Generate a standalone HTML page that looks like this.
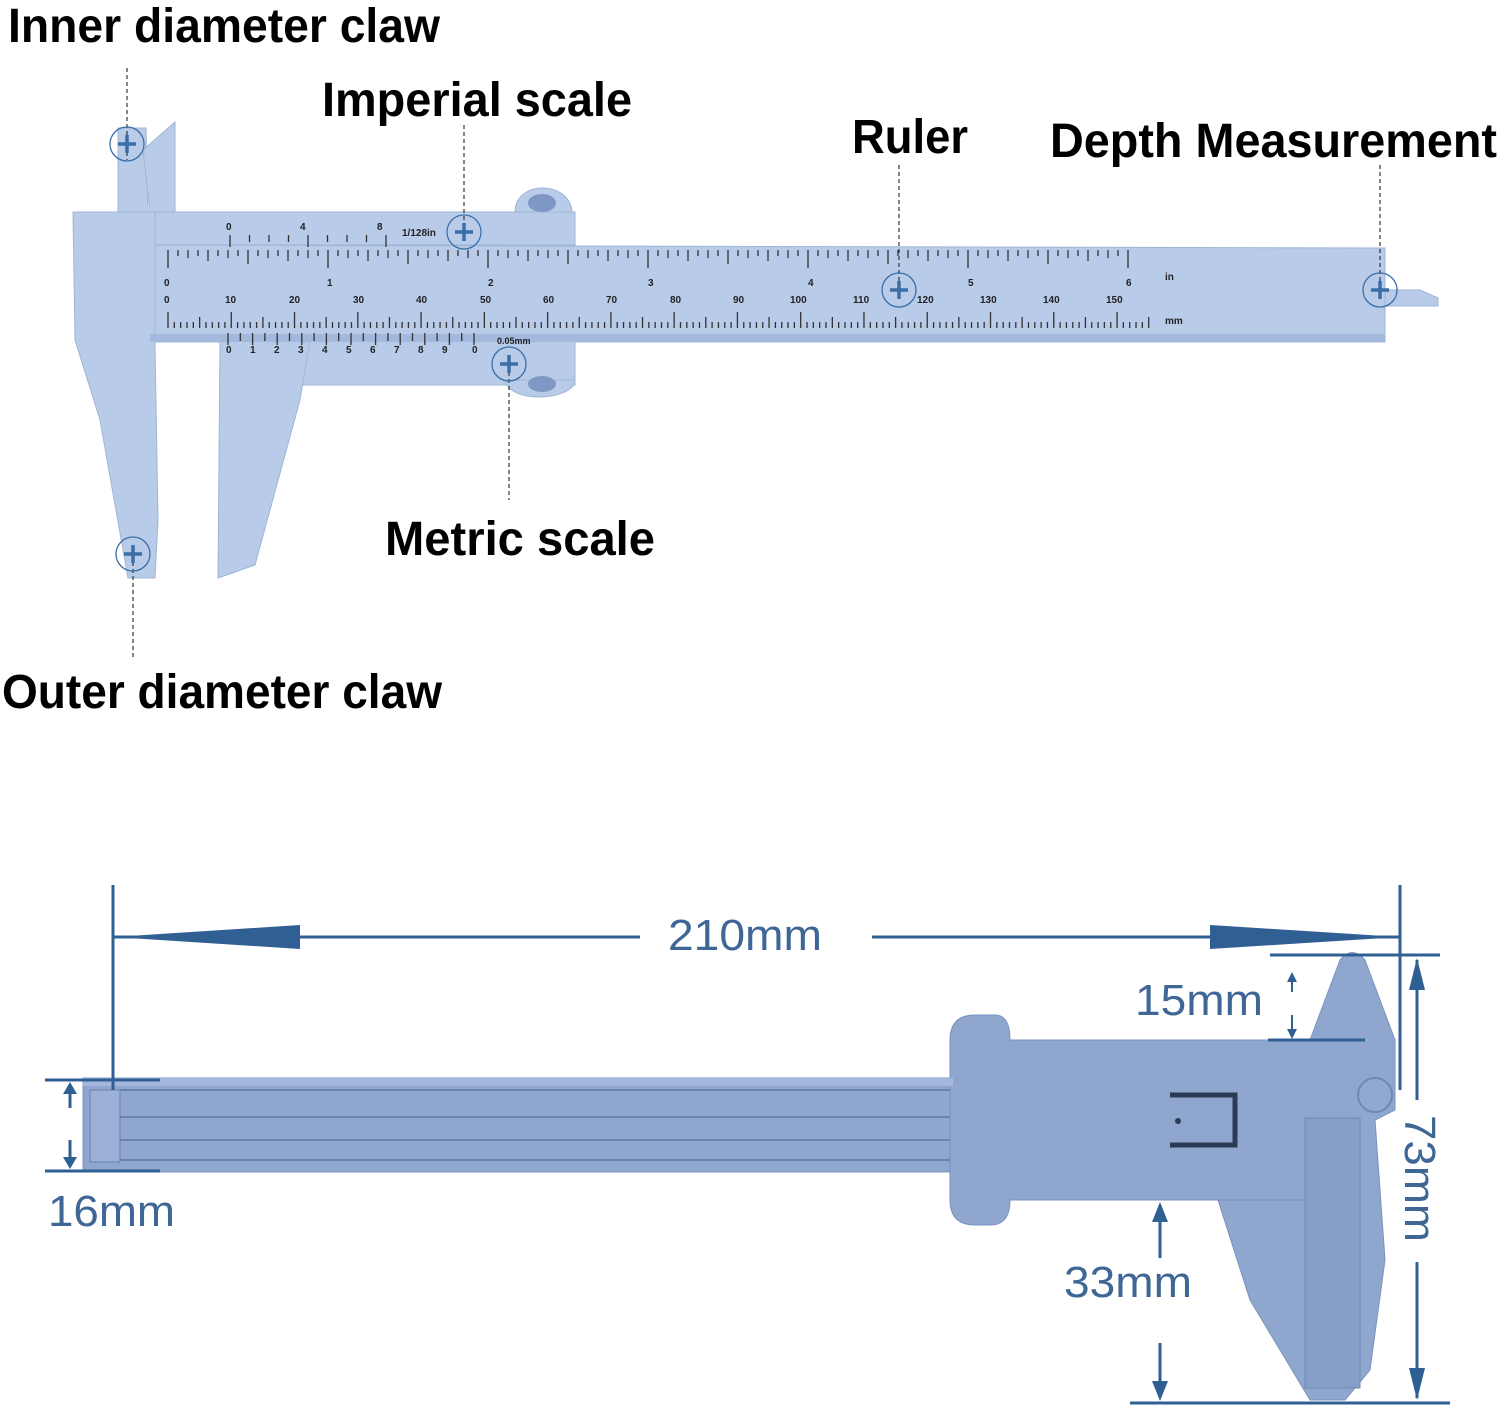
<!DOCTYPE html>
<html><head><meta charset="utf-8">
<style>
html,body{margin:0;padding:0;background:#fff;}
svg{display:block;}
.lab{font-family:"Liberation Sans Narrow","Liberation Sans",sans-serif;font-weight:bold;font-size:48px;fill:#000;}
.dim{font-family:"Liberation Sans",sans-serif;font-size:44px;fill:#3e6796;}
.sm{font-family:"Liberation Sans",sans-serif;font-weight:bold;font-size:10px;fill:#222;}
</style></head>
<body>
<svg id="s" width="1500" height="1415" viewBox="0 0 1500 1415" xmlns="http://www.w3.org/2000/svg">
<g fill="#b8cbe9" stroke="#9fb5d8" stroke-width="1">
  <polygon points="118,128 146,128 148,212 118,212"/>
  <polygon points="143,150 175,122 175,212 150,212"/>
  <polygon points="150,245 1385,248 1385,342 150,342"/>
  <polygon points="1385,290 1420,290 1438,298 1438,306 1385,306"/>
  <polygon points="73,212 155,212 155,345 158,520 155,578 128,578 100,420 75,340"/>
  <polygon points="155,212 575,212 575,245 155,245"/>
  <path d="M515,212 C515,180 570,180 572,212 Z"/>
  <polygon points="220,340 575,340 575,385 220,385"/>
  <path d="M505,380 L575,380 C575,400 510,405 505,380 Z"/>
  <polygon points="220,340 310,340 300,400 255,565 218,578"/>
</g>
<ellipse cx="542" cy="203" rx="14" ry="9" fill="#7f97c4"/>
<ellipse cx="542" cy="384" rx="14" ry="8" fill="#7f97c4"/>
<rect x="150" y="334" width="1235" height="8" fill="#a2b8dc"/>
<text class="sm" x="226" y="230">0</text><text class="sm" x="300" y="230">4</text><text class="sm" x="377" y="230">8</text>
<text class="sm" x="402" y="236">1/128in</text>
<g class="sm">
<text x="164" y="286">0</text><text x="327" y="286">1</text><text x="488" y="286">2</text><text x="648" y="286">3</text><text x="808" y="286">4</text><text x="968" y="286">5</text><text x="1126" y="286">6</text><text x="1165" y="280">in</text>
<text x="164" y="303">0</text><text x="225" y="303">10</text><text x="289" y="303">20</text><text x="353" y="303">30</text><text x="416" y="303">40</text><text x="480" y="303">50</text><text x="543" y="303">60</text><text x="606" y="303">70</text><text x="670" y="303">80</text><text x="733" y="303">90</text><text x="790" y="303">100</text><text x="853" y="303">110</text><text x="917" y="303">120</text><text x="980" y="303">130</text><text x="1043" y="303">140</text><text x="1106" y="303">150</text><text x="1165" y="324">mm</text>
<text x="226" y="353">0</text><text x="250" y="353">1</text><text x="274" y="353">2</text><text x="298" y="353">3</text><text x="322" y="353">4</text><text x="346" y="353">5</text><text x="370" y="353">6</text><text x="394" y="353">7</text><text x="418" y="353">8</text><text x="442" y="353">9</text><text x="472" y="353">0</text>
<text x="497" y="344" style="font-size:9px">0.05mm</text>
</g>
<g id="ticks" stroke="#333" stroke-width="1.3"></g>
<g stroke="#333" stroke-width="1.2" stroke-dasharray="4,3" fill="none">
  <line x1="127" y1="68" x2="127" y2="160"/>
  <line x1="464" y1="125" x2="464" y2="232"/>
  <line x1="899" y1="165" x2="899" y2="290"/>
  <line x1="1380" y1="165" x2="1380" y2="290"/>
  <line x1="509" y1="365" x2="509" y2="500"/>
  <line x1="133" y1="555" x2="133" y2="660"/>
</g>
<g stroke="#3a6ea5" fill="none"><g id="cr"></g></g>
<text class="lab" x="8" y="42" textLength="432" lengthAdjust="spacingAndGlyphs">Inner diameter claw</text>
<text class="lab" x="322" y="116" textLength="310" lengthAdjust="spacingAndGlyphs">Imperial scale</text>
<text class="lab" x="852" y="153" textLength="116" lengthAdjust="spacingAndGlyphs">Ruler</text>
<text class="lab" x="1050" y="157" textLength="447" lengthAdjust="spacingAndGlyphs">Depth Measurement</text>
<text class="lab" x="385" y="555" textLength="270" lengthAdjust="spacingAndGlyphs">Metric scale</text>
<text class="lab" x="2" y="708" textLength="440" lengthAdjust="spacingAndGlyphs">Outer diameter claw</text>

<g fill="#8fa7cf" stroke="#7a93bd" stroke-width="1">
  <rect x="83" y="1078" width="870" height="94"/>
  <path d="M950,1040 Q950,1015 975,1015 L995,1015 Q1010,1015 1010,1040 L1300,1040 L1310,1040 L1340,960 Q1352,945 1365,960 L1395,1040 L1395,1110 L1375,1120 L1385,1260 L1370,1370 L1345,1400 L1310,1400 L1250,1300 L1218,1200 L1305,1200 L1305,1200 L1010,1200 Q1010,1225 990,1225 L975,1225 Q950,1225 950,1200 Z"/>
</g>
<rect x="83" y="1078" width="870" height="8" fill="#a3b8dc"/>
<rect x="1305" y="1118" width="55" height="270" fill="#879fc8" stroke="#6f88b3"/>
<g stroke="#6a82ad" stroke-width="2">
  <line x1="120" y1="1090" x2="950" y2="1090"/>
  <line x1="120" y1="1117" x2="950" y2="1117"/>
  <line x1="120" y1="1140" x2="950" y2="1140"/>
  <line x1="120" y1="1160" x2="950" y2="1160"/>
</g>
<rect x="90" y="1090" width="30" height="72" fill="#9ab0d6" stroke="#6a82ad"/>
<path d="M1170,1095 L1235,1095 L1235,1145 L1170,1145" fill="none" stroke="#2b3a55" stroke-width="5"/>
<circle cx="1178" cy="1121" r="3" fill="#2b3a55"/>
<circle cx="1375" cy="1095" r="17" fill="#91a9d0" stroke="#6f88b3" stroke-width="2"/>

<g stroke="#2f5f93" stroke-width="3" fill="#2f5f93">
  <line x1="113" y1="885" x2="113" y2="1090"/>
  <line x1="1400" y1="885" x2="1400" y2="1090"/>
  <line x1="113" y1="937" x2="640" y2="937"/>
  <line x1="872" y1="937" x2="1400" y2="937"/>
  <polygon points="113,937 300,925 300,949" stroke="none"/>
  <polygon points="1400,937 1210,925 1210,949" stroke="none"/>
  <line x1="45" y1="1080" x2="160" y2="1080"/>
  <line x1="45" y1="1171" x2="160" y2="1171"/>
  <line x1="70" y1="1085" x2="70" y2="1108"/>
  <line x1="70" y1="1140" x2="70" y2="1166"/>
  <polygon points="70,1082 63,1094 77,1094" stroke="none"/>
  <polygon points="70,1169 63,1157 77,1157" stroke="none"/>
  <line x1="1270" y1="955" x2="1440" y2="955"/>
  <line x1="1130" y1="1403" x2="1450" y2="1403"/>
  <line x1="1417" y1="960" x2="1417" y2="1100"/>
  <line x1="1417" y1="1262" x2="1417" y2="1398"/>
  <polygon points="1417,958 1409,990 1425,990" stroke="none"/>
  <polygon points="1417,1400 1409,1368 1425,1368" stroke="none"/>
  <line x1="1268" y1="1040" x2="1365" y2="1040"/>
  <line x1="1292" y1="975" x2="1292" y2="992" stroke-width="2"/>
  <line x1="1292" y1="1015" x2="1292" y2="1036" stroke-width="2"/>
  <polygon points="1292,972 1287,982 1297,982" stroke="none"/>
  <polygon points="1292,1039 1287,1029 1297,1029" stroke="none"/>
  <line x1="1160" y1="1205" x2="1160" y2="1258"/>
  <line x1="1160" y1="1343" x2="1160" y2="1398"/>
  <polygon points="1160,1202 1152,1222 1168,1222" stroke="none"/>
  <polygon points="1160,1401 1152,1381 1168,1381" stroke="none"/>
</g>
<text class="dim" x="668" y="950" textLength="154" lengthAdjust="spacingAndGlyphs">210mm</text>
<text class="dim" x="1135" y="1015" textLength="128" lengthAdjust="spacingAndGlyphs">15mm</text>
<text class="dim" x="48" y="1226" textLength="127" lengthAdjust="spacingAndGlyphs">16mm</text>
<text class="dim" x="1064" y="1297" textLength="128" lengthAdjust="spacingAndGlyphs">33mm</text>
<text class="dim" transform="translate(1405,1115) rotate(90)" textLength="127" lengthAdjust="spacingAndGlyphs">73mm</text>
</svg>
<script>
var ns="http://www.w3.org/2000/svg",t=document.getElementById("ticks");
function L(x1,y1,x2,y2){var l=document.createElementNS(ns,"line");l.setAttribute("x1",x1);l.setAttribute("y1",y1);l.setAttribute("x2",x2);l.setAttribute("y2",y2);t.appendChild(l);}
for(var i=0;i<=96;i++){var x=168+i*10;var h=i%16==0?18:(i%8==0?14:(i%4==0?11:(i%2==0?8:6)));L(x,250,x,250+h);}
for(var i=0;i<=155;i++){var x=168+i*6.327;var h=i%10==0?16:(i%5==0?11:6);L(x,328,x,328-h);}
for(var i=0;i<=20;i++){var x=228+i*12.3;var h=i%2==0?12:8;L(x,333,x,333+h);}
for(var i=0;i<=8;i++){var x=230+i*19.5;var h=i%4==0?12:7;L(x,235,x,235+h);}
var c=document.getElementById("cr");
[[127,144],[464,232],[899,290],[1380,290],[509,364],[133,554]].forEach(function(p){
 var e=document.createElementNS(ns,"circle");e.setAttribute("cx",p[0]);e.setAttribute("cy",p[1]);e.setAttribute("r",17);e.setAttribute("stroke-width","1.3");c.appendChild(e);
 var g=document.createElementNS(ns,"path");g.setAttribute("d","M"+(p[0]-9)+","+p[1]+"h18M"+p[0]+","+(p[1]-9)+"v18");g.setAttribute("stroke-width","3.5");c.appendChild(g);
});
</script>
</body></html>
